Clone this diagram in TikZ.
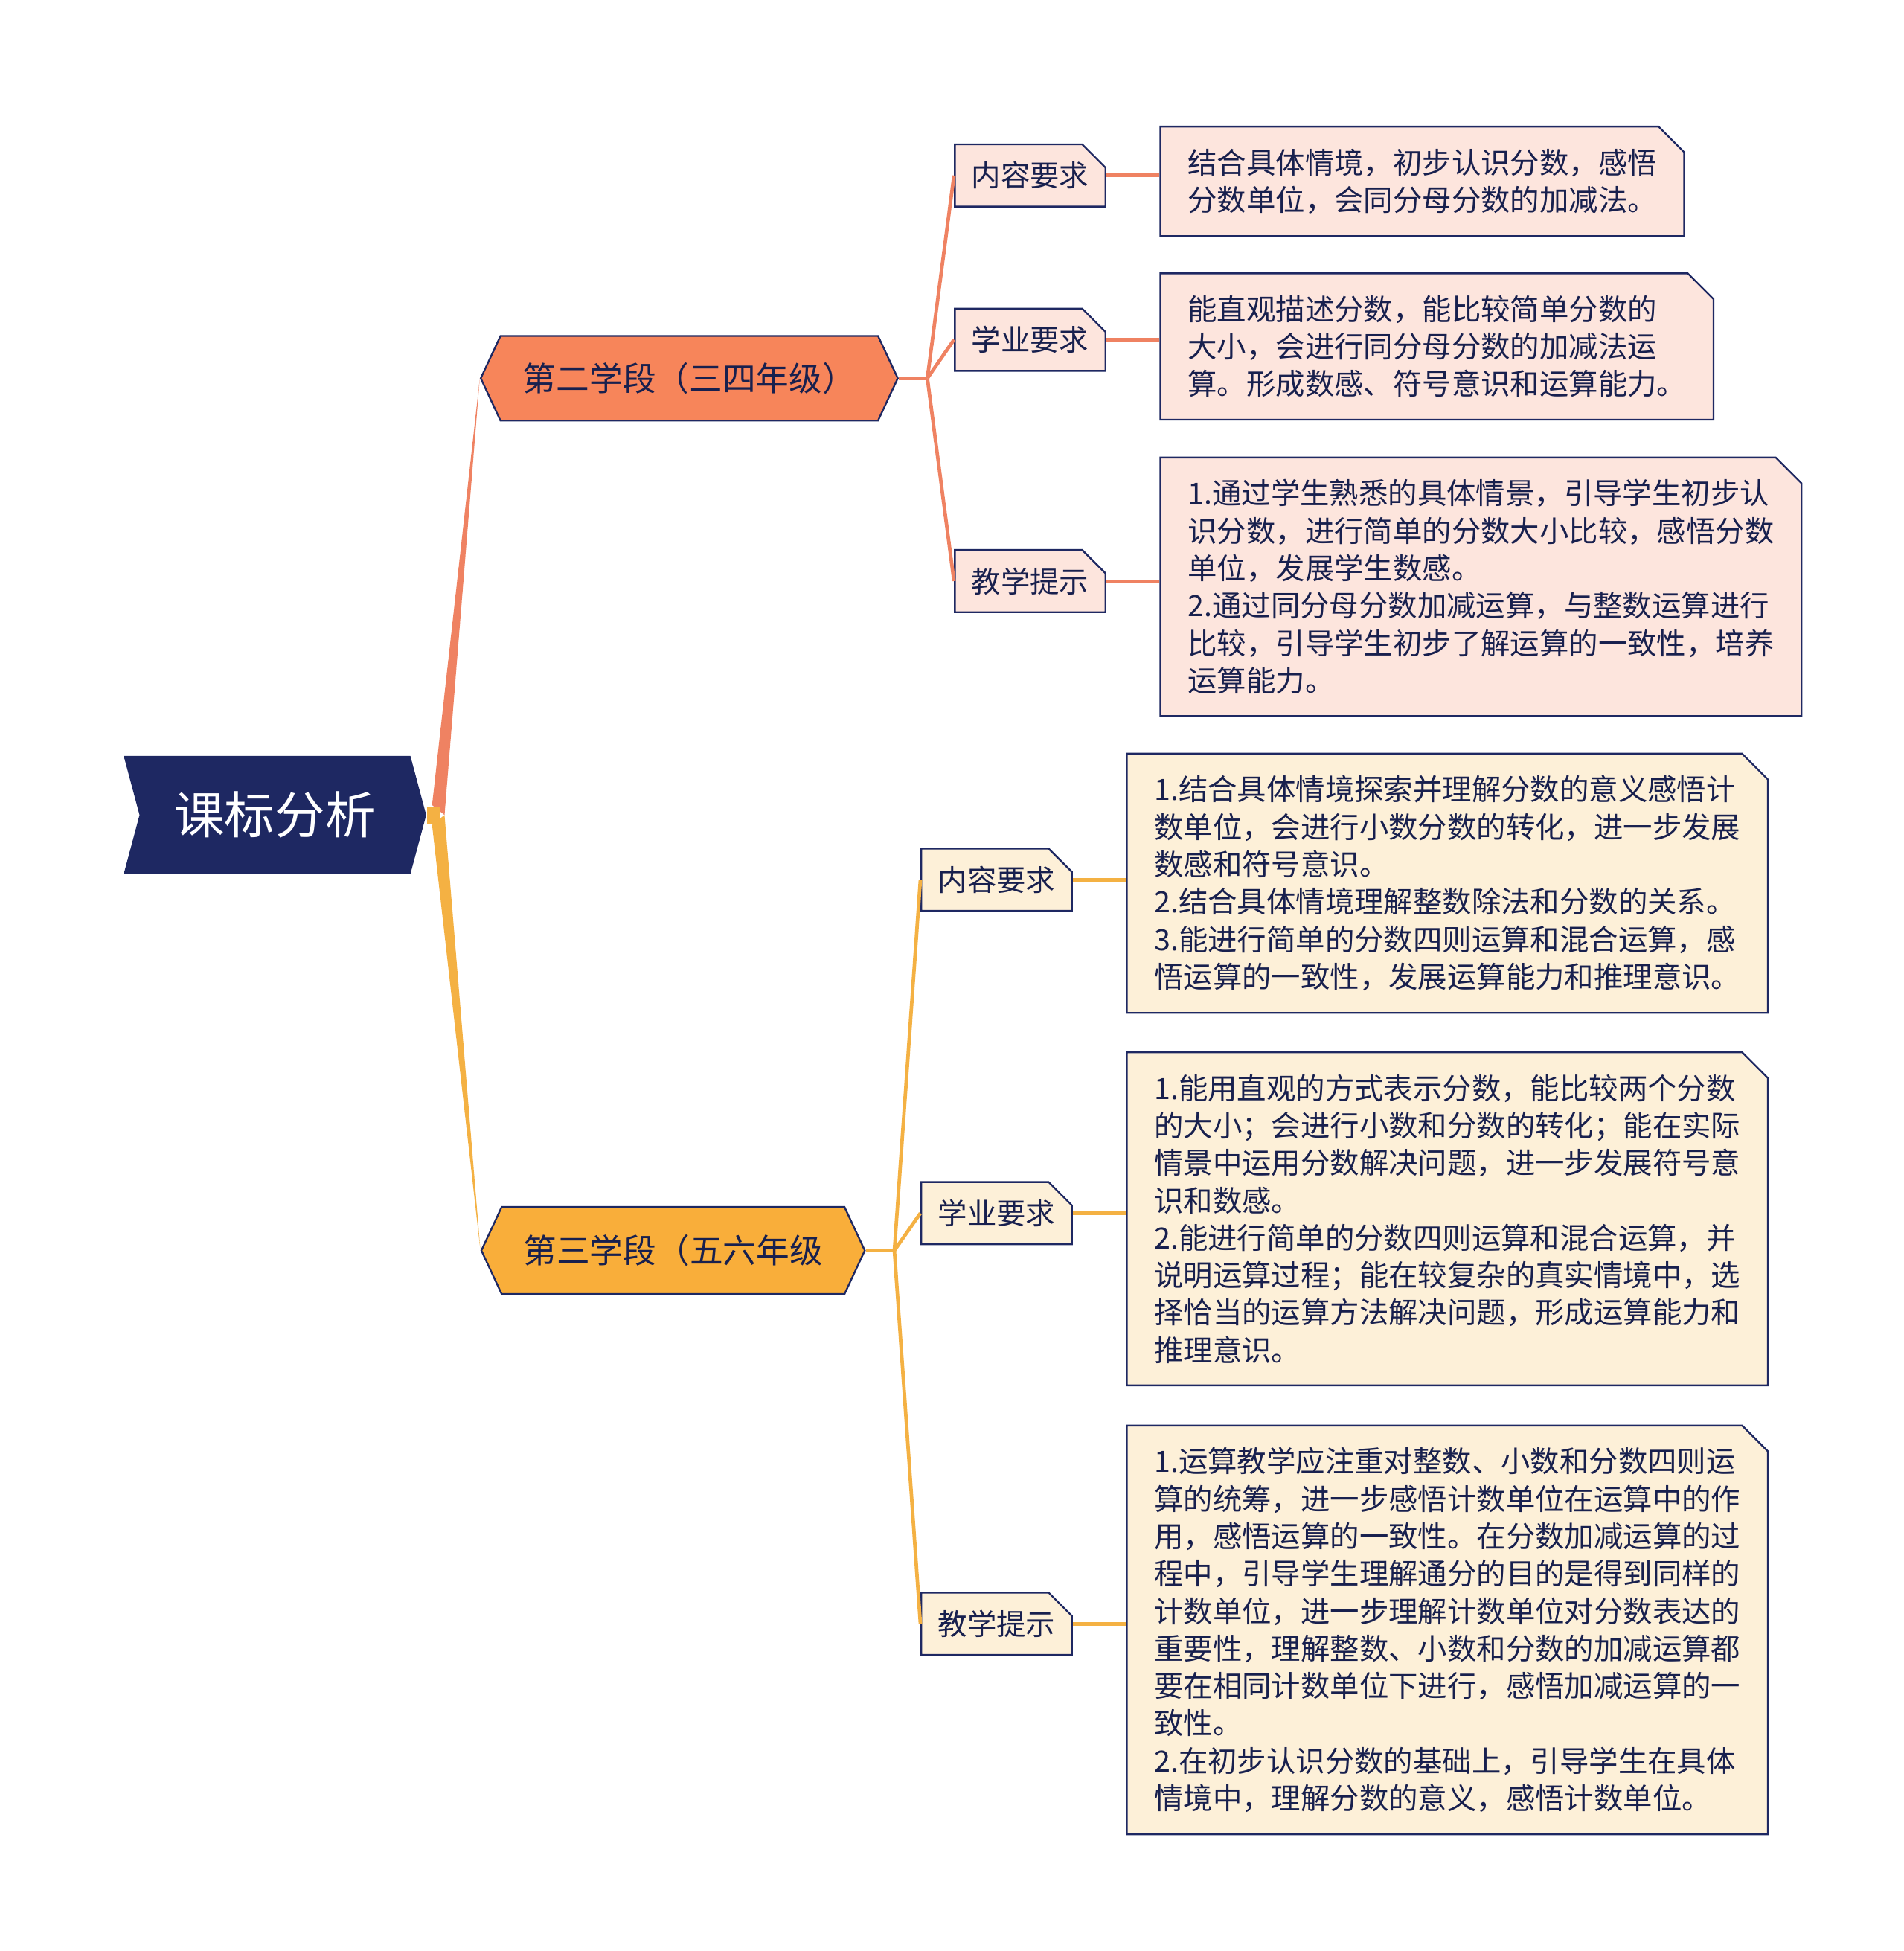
\documentclass[tikz,border=0pt]{standalone}
\usepackage{fontspec}
\setmainfont{Noto Sans CJK SC}
\usetikzlibrary{positioning,calc,shapes.misc,shapes.symbols}
\definecolor{navy}{HTML}{1E2862}
\definecolor{orng}{HTML}{F7855A}
\definecolor{yelw}{HTML}{F9AE3A}
\definecolor{pinkbg}{HTML}{FDE5DD}
\definecolor{creambg}{HTML}{FDF0D8}
\definecolor{pinkln}{HTML}{EF8262}
\definecolor{yelln}{HTML}{F4B143}
\tikzset{
  stage/.style={signal, signal to=east and west, signal pointer angle=130, draw=navy, line width=0.4pt,
    minimum height=0.68cm, font=\fontsize{7.6pt}{9pt}\selectfont, text=navy!80!black, inner sep=0pt},
  subbox/.style={chamfered rectangle, chamfered rectangle corners=north east, chamfered rectangle xsep=0.06cm,
    draw=navy, line width=0.4pt, minimum width=1.21cm, minimum height=0.5cm, inner sep=0pt,
    font=\fontsize{6.7pt}{8.5pt}\selectfont, text=navy!80!black},
  leafbox/.style={chamfered rectangle, chamfered rectangle corners=north east, chamfered rectangle xsep=0.08cm,
    draw=navy, line width=0.4pt, anchor=north west, align=left, inner xsep=0.14cm, inner ysep=0.05cm,
    font=\fontsize{6.7pt}{8.55pt}\selectfont, text=navy!80!black},
  link/.style={line width=0.8pt}
}
\begin{document}
\begin{tikzpicture}[x=0.01cm,y=-0.01cm]
  \useasboundingbox[fill=white] (0,0) rectangle (1530,1568);
  % root
  \node[signal, signal from=west and east, signal pointer angle=150, fill=navy, text=white,
    minimum width=2.43cm, minimum height=0.95cm, font=\fontsize{11.5pt}{12pt}\selectfont] (root) at (221,655) {课标分析};
  % stages
  \node[stage, fill=orng, minimum width=3.35cm] (s2) at (554,304) {第二学段（三四年级）};
  \node[stage, fill=yelw, minimum width=3.08cm, minimum height=0.7cm] (s3) at (541,1005) {第三学段（五六年级};
  \fill[pinkln] ($(root.east)+(4,-8)$) -- (s2.west) -- ($(root.east)+(14,0)$) -- cycle;
  \fill[yelln] ($(root.east)+(4,8)$) -- (s3.west) -- ($(root.east)+(14,0)$) -- cycle;
  \fill[yelln] ($(root.east)+(0,-7)$) rectangle ($(root.east)+(10,7)$);
  % second stage
  \node[subbox, fill=pinkbg] (a1) at (828,141) {内容要求};
  \node[subbox, fill=pinkbg] (a2) at (828,273) {学业要求};
  \node[subbox, fill=pinkbg] (a3) at (828,467) {教学提示};
  \node[leafbox, fill=pinkbg, minimum width=4.04cm, minimum height=0.8cm] (l1) at (932,101)
    {结合具体情境，初步认识分数，感悟\\分数单位，会同分母分数的加减法。};
  \node[leafbox, fill=pinkbg, minimum width=4.28cm, minimum height=1.1cm] (l2) at (932,219)
    {能直观描述分数，能比较简单分数的\\大小，会进行同分母分数的加减法运\\算。形成数感、符号意识和运算能力。};
  \node[leafbox, fill=pinkbg, minimum width=4.98cm, minimum height=2.01cm] (l3) at (932,367)
    {1.通过学生熟悉的具体情景，引导学生初步认\\识分数，进行简单的分数大小比较，感悟分数\\单位，发展学生数感。\\2.通过同分母分数加减运算，与整数运算进行\\比较，引导学生初步了解运算的一致性，培养\\运算能力。};
  \coordinate (j2) at ($(s2.east)+(23,0)$);
  \draw[pinkln, link] (s2.east) -- (j2);
  \foreach \n/\m in {a1/l1,a2/l2,a3/l3}{
    \draw[pinkln, link] (j2) -- (\n.west);
    \draw[pinkln, link] (\n.east) -- (\m.west |- \n.east);
  }
  % third stage
  \node[subbox, fill=creambg] (b1) at (801,707) {内容要求};
  \node[subbox, fill=creambg] (b2) at (801,975) {学业要求};
  \node[subbox, fill=creambg] (b3) at (801,1305) {教学提示};
  \node[leafbox, fill=creambg, minimum width=4.98cm, minimum height=2.02cm] (m1) at (905,605)
    {1.结合具体情境探索并理解分数的意义感悟计\\数单位，会进行小数分数的转化，进一步发展\\数感和符号意识。\\2.结合具体情境理解整数除法和分数的关系。\\3.能进行简单的分数四则运算和混合运算，感\\悟运算的一致性，发展运算能力和推理意识。};
  \node[leafbox, fill=creambg, minimum width=4.98cm, minimum height=2.62cm] (m2) at (905,845)
    {1.能用直观的方式表示分数，能比较两个分数\\的大小；会进行小数和分数的转化；能在实际\\情景中运用分数解决问题，进一步发展符号意\\识和数感。\\2.能进行简单的分数四则运算和混合运算，并\\说明运算过程；能在较复杂的真实情境中，选\\择恰当的运算方法解决问题，形成运算能力和\\推理意识。};
  \node[leafbox, fill=creambg, minimum width=4.98cm, minimum height=3.22cm] (m3) at (905,1145)
    {1.运算教学应注重对整数、小数和分数四则运\\算的统筹，进一步感悟计数单位在运算中的作\\用，感悟运算的一致性。在分数加减运算的过\\程中，引导学生理解通分的目的是得到同样的\\计数单位，进一步理解计数单位对分数表达的\\重要性，理解整数、小数和分数的加减运算都\\要在相同计数单位下进行，感悟加减运算的一\\致性。\\2.在初步认识分数的基础上，引导学生在具体\\情境中，理解分数的意义，感悟计数单位。};
  \coordinate (j3) at ($(s3.east)+(23,0)$);
  \draw[yelln, link] (s3.east) -- (j3);
  \foreach \n/\m in {b1/m1,b2/m2,b3/m3}{
    \draw[yelln, link] (j3) -- (\n.west);
    \draw[yelln, link] (\n.east) -- (\m.west |- \n.east);
  }
\end{tikzpicture}
\end{document}
